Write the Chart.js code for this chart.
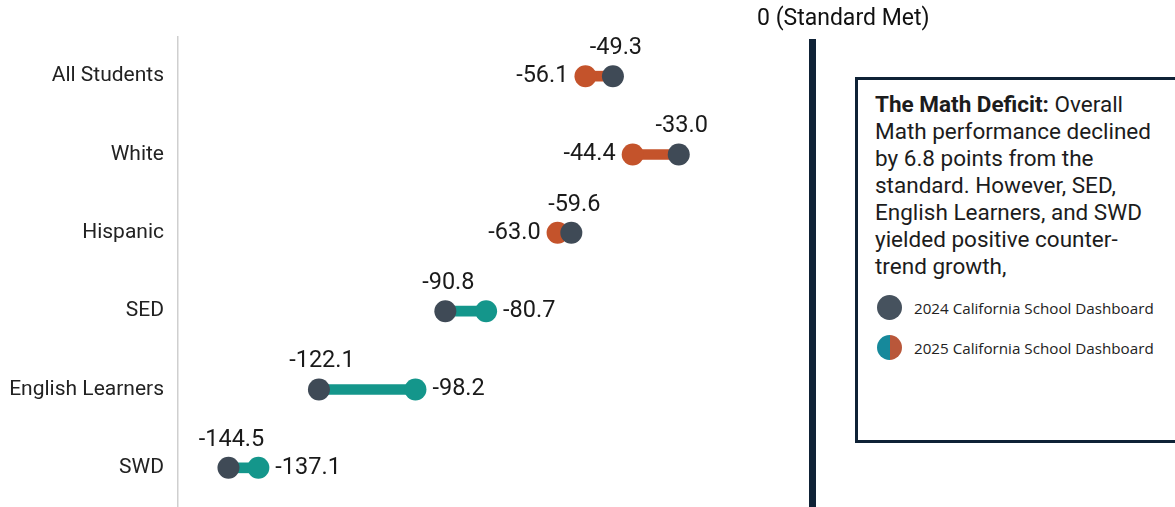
<!DOCTYPE html>
<html>
<head>
<meta charset="utf-8">
<script src="https://cdn.jsdelivr.net/npm/chart.js@4.4.1/dist/chart.umd.min.js"></script>
<style>
  html, body { margin: 0; padding: 0; background: #ffffff; }
  #wrap { position: relative; width: 1175px; height: 507px; overflow: hidden; }
  #chart { position: absolute; left: 0; top: 0; }
  #note {
    position: absolute; left: 855px; top: 77px; width: 340px; height: 366px;
    border: 3px solid #0f2236; box-sizing: border-box; background: #ffffff;
    padding: 11px 0 0 17px;
    font-family: Roboto, sans-serif; font-size: 22.5px; line-height: 27px; color: #1c1c1c;
    white-space: nowrap;
  }
  #note b { font-weight: 700; }
  .leg { position: absolute; left: 17px; font-family: "Open Sans", sans-serif; font-size: 15.2px; color: #222; }
  .leg span.dot { position: absolute; left: 2px; top: -12px; width: 25px; height: 25px; border-radius: 50%; }
  .leg span.lab { position: absolute; left: 39px; top: -12px; white-space: nowrap; }
</style>
</head>
<body>
<div id="wrap">
  <canvas id="chart" width="1175" height="518"></canvas>
  <div id="note">
    <div><b>The Math Deficit:</b> Overall<br>Math performance declined<br>by 6.8 points from the<br>standard. However, SED,<br>English Learners, and SWD<br>yielded positive counter-<br>trend growth,</div>
    <div class="leg" style="top:227px"><span class="dot" style="background:#46525e"></span><span class="lab">2024 California School Dashboard</span></div>
    <div class="leg" style="top:267px"><span class="dot" style="background:linear-gradient(90deg,#16899b 50%,#b9573a 50%)"></span><span class="lab">2025 California School Dashboard</span></div>
  </div>
</div>
<script>
  "use strict";

  // Data (distance from standard, points)
  var groups = ["All Students", "White", "Hispanic", "SED", "English Learners", "SWD"];
  var dash2024 = [-49.3, -33.0, -59.6, -90.8, -122.1, -144.5];
  var dash2025 = [-56.1, -44.4, -63.0, -80.7, -98.2, -137.1];

  var darkColor = "#3f4a56";
  var downColor = "#c4532b";
  var upColor = "#14968b";

  // color each row by direction of change
  var rowColors = dash2025.map(function (v, i) {
    return v < dash2024[i] ? downColor : upColor;
  });
  var ranges = dash2024.map(function (v, i) {
    return [v, dash2025[i]];
  });

  // thick zero line and its caption
  var zeroLine = {
    id: "zeroLine",
    beforeDatasetsDraw: function (chart) {
      var ctx = chart.ctx;
      var x = chart.scales.x.getPixelForValue(0);
      ctx.save();
      ctx.fillStyle = "#0f2236";
      ctx.fillRect(x - 3, chart.chartArea.top + 2, 7, chart.height);
      ctx.fillStyle = "#111";
      ctx.font = "23px Roboto";
      ctx.textAlign = "left";
      ctx.textBaseline = "middle";
      ctx.fillText("0 (Standard Met)", x - 55, 19);
      ctx.restore();
    },
  };

  // value labels next to the dots
  var valueLabels = {
    id: "valueLabels",
    afterDatasetsDraw: function (chart) {
      var ctx = chart.ctx;
      var m24 = chart.getDatasetMeta(1).data;
      var m25 = chart.getDatasetMeta(2).data;
      ctx.save();
      ctx.fillStyle = "#1a1a1a";
      ctx.font = "23.5px Roboto";
      ctx.textBaseline = "middle";
      groups.forEach(function (g, i) {
        var p = m24[i];
        ctx.textAlign = "center";
        ctx.fillText(dash2024[i].toFixed(1), p.x + 3, p.y - 28);
        var q = m25[i];
        if (dash2025[i] < dash2024[i]) {
          ctx.textAlign = "right";
          ctx.fillText(dash2025[i].toFixed(1), q.x - 17, q.y);
        } else {
          ctx.textAlign = "left";
          ctx.fillText(dash2025[i].toFixed(1), q.x + 17, q.y);
        }
      });
      ctx.restore();
    },
  };

  new Chart(document.getElementById("chart"), {
    data: {
      labels: groups,
      datasets: [
        {
          type: "bar",
          label: "change",
          data: ranges,
          backgroundColor: rowColors,
          barThickness: 10,
          borderSkipped: false,
          order: 3,
        },
        {
          type: "line",
          label: "2024 California School Dashboard",
          data: dash2024,
          showLine: false,
          pointRadius: 11,
          pointHoverRadius: 11,
          pointBackgroundColor: darkColor,
          pointBorderWidth: 0,
          order: 1,
        },
        {
          type: "line",
          label: "2025 California School Dashboard",
          data: dash2025,
          showLine: false,
          pointRadius: 11,
          pointHoverRadius: 11,
          pointBackgroundColor: rowColors,
          pointBorderWidth: 0,
          order: 2,
        },
      ],
    },
    options: {
      indexAxis: "y",
      responsive: false,
      animation: false,
      layout: { padding: { top: 37, right: 363, bottom: 0, left: 0 } },
      plugins: {
        legend: { display: false },
        tooltip: { enabled: false },
      },
      scales: {
        x: { type: "linear", min: -157, max: 0, display: false },
        y: {
          type: "category",
          offset: true,
          grid: { display: false },
          border: { color: "#cfcfcf", width: 1.5 },
          ticks: { font: { family: "Roboto", size: 21 }, color: "#222", padding: 6 },
          afterFit: function (scale) {
            scale.width = 178;
            scale.paddingTop = 0;
            scale.paddingBottom = 0;
          },
        },
      },
    },
    plugins: [zeroLine, valueLabels],
  });
</script>
</body>
</html>
